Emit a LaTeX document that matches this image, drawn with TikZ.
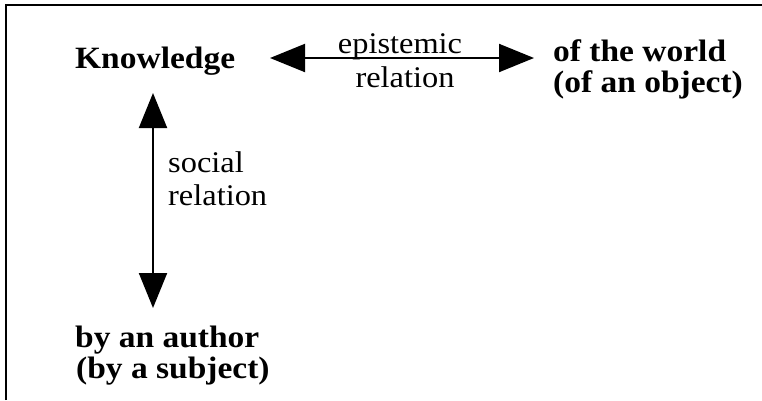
\documentclass[tikz,border=0pt]{standalone}
\usepackage{fontspec}
\setmainfont{Liberation Serif}[FakeStretch=1.08]
\usetikzlibrary{arrows.meta}
\begin{document}
\begin{tikzpicture}[x=1pt,y=-1pt,
  lbl/.style={inner sep=0pt,anchor=base west,font=\fontsize{30}{33}\selectfont},
  bold/.style={lbl,font=\fontsize{31}{33}\selectfont\bfseries},
  rel/.style={line width=2pt,{Triangle[length=35pt,width=28pt]}-{Triangle[length=35pt,width=28pt]}}]
\useasboundingbox (0,0) rectangle (762,400);
% frame along the left and top edges
\draw[line width=2pt] (6,400) -- (6,4.5) -- (762,4.5);
% terms
\node[bold] (know) at (75,68) {Knowledge};
\node[bold] (world) at (553,61) {of the world};
\node[bold] (object) at (553,92) {(of an object)};
\node[bold] (author) at (75,347) {by an author};
\node[bold] (subject) at (76,378) {(by a subject)};
% relation labels
\node[lbl,anchor=base] (epi) at (400,53) {epistemic};
\node[lbl,anchor=base] (epirel) at (405,87) {relation};
\node[lbl] (soc) at (168,172) {social};
\node[lbl] (socrel) at (168,205) {relation};
% arrow ends
\coordinate (eL) at (270,58);
\coordinate (eR) at (534,58);
\coordinate (sT) at (153,93);
\coordinate (sB) at (153,308);
\draw[rel] (eL) -- (eR);
\draw[rel] (sT) -- (sB);
\end{tikzpicture}
\end{document}
